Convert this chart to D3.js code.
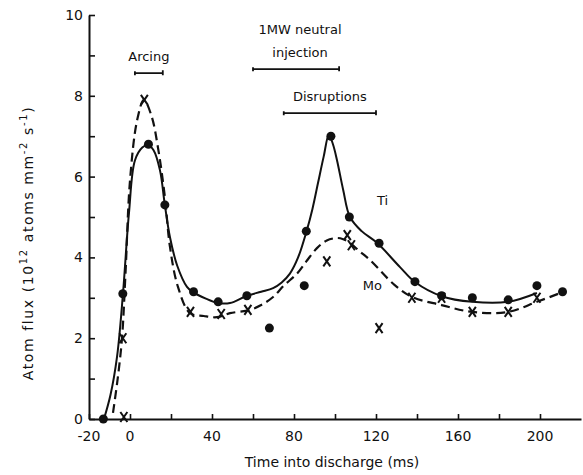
<!DOCTYPE html>
<html>
<head>
<meta charset="utf-8">
<script src="https://cdn.jsdelivr.net/npm/d3@7"></script>
<style>
  body { margin: 0; background: #fff; }
  text { font-family: "DejaVu Sans", sans-serif; fill: #111; }
</style>
</head>
<body>
<div id="chart"></div>
<script>
// measured points (filled circles = Ti, crosses = Mo)
const tiTime = [-13, -3.5, 9, 17, 31, 43, 57, 68, 85, 86, 98, 107, 121.5, 139, 152, 167, 184.5, 198.5, 211];
const tiFlux = [0, 3.1, 6.8, 5.3, 3.15, 2.9, 3.05, 2.25, 3.3, 4.65, 7.0, 5.0, 4.35, 3.4, 3.05, 3.0, 2.95, 3.3, 3.15];
const moTime = [-3, -3.5, 7, 29.5, 44.5, 57.5, 96, 106, 108, 121.5, 137.5, 152, 167, 184.5, 198.5];
const moFlux = [0.05, 2.0, 7.9, 2.65, 2.6, 2.7, 3.9, 4.55, 4.3, 2.25, 3.0, 3.0, 2.65, 2.65, 3.0];

// hand drawn fit curves
const tiCurveTime = [-12.7, -9.5, -6.3, -3.4, -0.5, 2.4, 6, 8.8, 11.5, 14.6, 17, 19.5, 23, 27.8, 30.7, 37, 43, 48.8, 57, 64, 69.8, 74, 78, 82, 86.3, 89, 91.7, 94.5, 97, 99, 101, 104, 107.3, 113, 120.5, 131.7, 139, 152, 167, 184.4, 198.5];
const tiCurveFlux = [0, 0.6, 1.55, 3.12, 5.1, 6.4, 6.72, 6.78, 6.65, 6.16, 5.3, 4.5, 3.8, 3.27, 3.14, 2.98, 2.87, 2.87, 3.05, 3.15, 3.24, 3.38, 3.6, 4.0, 4.68, 5.2, 5.84, 6.5, 7.03, 6.8, 6.4, 5.67, 5.0, 4.65, 4.36, 3.76, 3.39, 3.04, 2.9, 2.9, 3.12];
const moCurveTime = [-8.3, -5.9, -3.9, -2.2, 0, 3.5, 6.8, 10.5, 13.7, 17, 19.5, 23.4, 29.3, 36, 42.4, 48.8, 58.5, 64, 69.8, 75, 81.5, 86, 91.2, 96, 101, 104, 107.3, 112, 117, 129, 137.6, 152, 167, 184.4, 198.5, 211];
const moCurveFlux = [0.15, 1.04, 2.0, 3.6, 5.9, 7.4, 7.9, 7.5, 6.7, 5.5, 4.26, 3.27, 2.62, 2.55, 2.52, 2.62, 2.7, 2.82, 3.02, 3.3, 3.6, 3.9, 4.23, 4.42, 4.48, 4.45, 4.36, 4.15, 3.94, 3.32, 3.02, 2.82, 2.65, 2.65, 2.9, 3.14];

// period bars
const periodLabels = [["Arcing"], ["1MW neutral", "injection"], ["Disruptions"]];
const periodStart = [2.4, 60, 75];
const periodEnd = [16, 102, 120];
const periodLevel = [8.56, 8.66, 7.57];

const seriesLabels = ["Ti", "Mo"];
const seriesLabelTime = [120.5, 113.5];
const seriesLabelFlux = [5.3, 3.2];

const xTicks = d3.range(-20, 201, 20);
const xTickLabels = [-20, 0, 40, 80, 120, 160, 200];
const yTicks = d3.range(0, 11, 1);
const yTickLabels = [0, 2, 4, 6, 8, 10];

const width = 583;
const height = 475;

const svg = d3
  .select("#chart")
  .append("svg")
  .attr("width", width)
  .attr("height", height);

const x = d3.scaleLinear().domain([-20, 220]).range([89, 581]);
const y = d3.scaleLinear().domain([0, 10]).range([419, 15]);

// axes: ticks point inwards
const xAxis = d3
  .axisBottom(x)
  .tickValues(xTicks)
  .tickSize(-5)
  .tickSizeOuter(0)
  .tickFormat("");
const gx = svg.append("g").attr("transform", "translate(0," + y(0) + ")").call(xAxis);

const yAxis = d3
  .axisLeft(y)
  .tickValues(yTicks)
  .tickSize(-6)
  .tickSizeOuter(0)
  .tickFormat("");
const gy = svg.append("g").attr("transform", "translate(" + x(-20) + ",0)").call(yAxis);

[gx, gy].forEach((g) => {
  g.select(".domain").attr("stroke", "#111").attr("stroke-width", 2);
  g.selectAll(".tick line").attr("stroke", "#111").attr("stroke-width", 1.6);
});

svg
  .append("g")
  .selectAll("text")
  .data(xTickLabels)
  .enter()
  .append("text")
  .attr("x", (d) => x(d))
  .attr("y", y(0) + 22)
  .attr("text-anchor", "middle")
  .attr("font-size", 14)
  .text((d) => d);

svg
  .append("g")
  .selectAll("text")
  .data(yTickLabels)
  .enter()
  .append("text")
  .attr("x", x(-20) - 6)
  .attr("y", (d) => y(d) + 5)
  .attr("text-anchor", "end")
  .attr("font-size", 14)
  .text((d) => d);

// axis titles
svg
  .append("text")
  .attr("x", 332)
  .attr("y", 467)
  .attr("text-anchor", "middle")
  .attr("font-size", 14)
  .text("Time into discharge (ms)");

const yTitle = svg
  .append("text")
  .attr("transform", "translate(33,243)rotate(-90)")
  .attr("text-anchor", "middle")
  .attr("font-size", 14)
  .attr("letter-spacing", 1.6);
yTitle.append("tspan").text("Atom flux (10");
yTitle.append("tspan").attr("dy", -6).attr("font-size", 10).text("12");
yTitle.append("tspan").attr("dy", 6).text(" atoms mm");
yTitle.append("tspan").attr("dy", -6).attr("font-size", 10).text("-2");
yTitle.append("tspan").attr("dy", 6).text(" s");
yTitle.append("tspan").attr("dy", -6).attr("font-size", 10).text("-1");
yTitle.append("tspan").attr("dy", 6).text(")");

// curves
const line = d3
  .line()
  .x((d) => x(d[0]))
  .y((d) => y(d[1]))
  .curve(d3.curveCatmullRom.alpha(0.5));

svg
  .append("path")
  .datum(d3.zip(tiCurveTime, tiCurveFlux))
  .attr("fill", "none")
  .attr("stroke", "#111")
  .attr("stroke-width", 2)
  .attr("d", line);

svg
  .append("path")
  .datum(d3.zip(moCurveTime, moCurveFlux))
  .attr("fill", "none")
  .attr("stroke", "#111")
  .attr("stroke-width", 2.2)
  .attr("stroke-dasharray", "9,5")
  .attr("d", line);

// markers
svg
  .append("g")
  .selectAll("circle")
  .data(d3.zip(tiTime, tiFlux))
  .enter()
  .append("circle")
  .attr("cx", (d) => x(d[0]))
  .attr("cy", (d) => y(d[1]))
  .attr("r", 4.5)
  .attr("fill", "#111");

const cross = svg
  .append("g")
  .selectAll("g")
  .data(d3.zip(moTime, moFlux))
  .enter()
  .append("g")
  .attr("transform", (d) => "translate(" + x(d[0]) + "," + y(d[1]) + ")");
cross
  .append("path")
  .attr("d", "M-3.5,-5L3.5,5M3.5,-5L-3.5,5")
  .attr("stroke", "#111")
  .attr("stroke-width", 2)
  .attr("fill", "none");

// period bars with labels
periodLabels.forEach((lab, i) => {
  const x0 = x(periodStart[i]);
  const x1 = x(periodEnd[i]);
  const yy = y(periodLevel[i]);
  svg
    .append("path")
    .attr("d", "M" + x0 + "," + yy + "H" + x1 + "M" + x0 + "," + (yy - 2) + "V" + (yy + 2) + "M" + x1 + "," + (yy - 3) + "V" + (yy + 2))
    .attr("stroke", "#111")
    .attr("stroke-width", 1.8)
    .attr("fill", "none");
  lab.forEach((t, j) => {
    svg
      .append("text")
      .attr("x", (x0 + x1) / 2 + (i === 1 ? 4 : 0))
      .attr("y", yy - 12 - (lab.length - 1 - j) * 23)
      .attr("text-anchor", "middle")
      .attr("font-size", 13)
      .text(t);
  });
});

// series names
svg
  .append("g")
  .selectAll("text")
  .data(seriesLabels)
  .enter()
  .append("text")
  .attr("x", (d, i) => x(seriesLabelTime[i]))
  .attr("y", (d, i) => y(seriesLabelFlux[i]))
  .attr("font-size", 13)
  .text((d) => d);
</script>
</body>
</html>
